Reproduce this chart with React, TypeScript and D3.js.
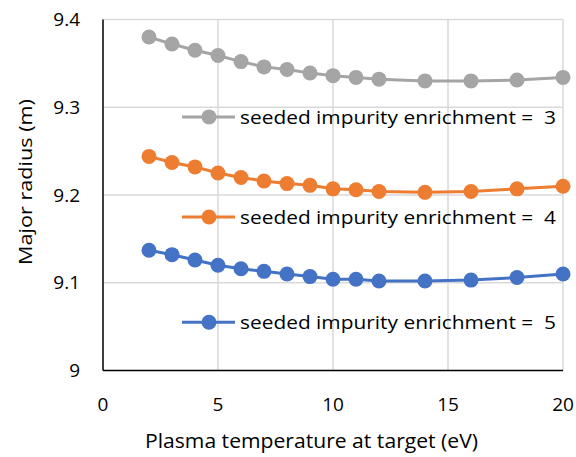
import React from "react";
import * as d3 from "d3";

const temps = [2, 3, 4, 5, 6, 7, 8, 9, 10, 11, 12, 14, 16, 18, 20];
const enrich3 = [9.380, 9.372, 9.365, 9.359, 9.352, 9.346, 9.343, 9.339, 9.336, 9.334, 9.332, 9.330, 9.330, 9.331, 9.334];
const enrich4 = [9.244, 9.237, 9.232, 9.225, 9.220, 9.216, 9.213, 9.211, 9.207, 9.206, 9.204, 9.203, 9.204, 9.207, 9.210];
const enrich5 = [9.137, 9.132, 9.126, 9.120, 9.116, 9.113, 9.110, 9.107, 9.104, 9.104, 9.102, 9.102, 9.103, 9.106, 9.110];
const seriesNames = ["seeded impurity enrichment =  3", "seeded impurity enrichment =  4", "seeded impurity enrichment =  5"];
const seriesColors = ["#A5A5A5", "#ED7D31", "#4472C4"];
const legendValues = [9.289, 9.175, 9.055];
const xTicks = [0, 5, 10, 15, 20];
const yTicks = [9, 9.1, 9.2, 9.3, 9.4];

export default function App() {
  const W = 576, H = 457;
  const x = d3.scaleLinear().domain([0, 20]).range([103, 563]);
  const y = d3.scaleLinear().domain([9, 9.4]).range([370.5, 19.5]);
  const series = [enrich3, enrich4, enrich5];
  const line = d3.line<number>().x((_, i) => x(temps[i])).y((d) => y(d));
  const font = "'Open Sans', sans-serif";
  return (
    <svg width={W} height={H} style={{ position: "absolute", left: 0, top: 0, background: "#fff" }}>
      <rect width={W} height={H} fill="#fff" />
      {yTicks.filter((t) => t > 9).map((t) => (
        <line key={"gy" + t} x1={x(0)} x2={x(20)} y1={y(t)} y2={y(t)} stroke="#d9d9d9" strokeWidth={1.5} />
      ))}
      {xTicks.filter((t) => t > 0).map((t) => (
        <line key={"gx" + t} x1={x(t)} x2={x(t)} y1={y(9)} y2={y(9.4)} stroke="#d9d9d9" strokeWidth={1.5} />
      ))}
      <line x1={x(0)} x2={x(0)} y1={y(9)} y2={y(9.4)} stroke="#000" strokeWidth={1.5} />
      <line x1={x(0)} x2={x(20)} y1={y(9)} y2={y(9)} stroke="#000" strokeWidth={1.5} />
      {yTicks.map((t) => (
        <text key={"ty" + t} x={80} y={y(t)} dy="0.35em" textAnchor="end" fontFamily={font} fontSize={19} fill="#000">
          {d3.format("")(+t.toFixed(1))}
        </text>
      ))}
      {xTicks.map((t) => (
        <text key={"tx" + t} x={x(t)} y={404} dy="0.35em" textAnchor="middle" fontFamily={font} fontSize={19} fill="#000">
          {t}
        </text>
      ))}
      <text x={311.5} y={441} dy="0.35em" textAnchor="middle" fontFamily={font} fontSize={20} fill="#000" textLength={333} lengthAdjust="spacingAndGlyphs">
        Plasma temperature at target (eV)
      </text>
      <text transform={`translate(25,${y(9.2) - 13}) rotate(-90)`} dy="0.35em" textAnchor="middle" fontFamily={font} fontSize={19} fill="#000" textLength={166} lengthAdjust="spacingAndGlyphs">
        Major radius (m)
      </text>
      {series.map((s, k) => (
        <g key={"s" + k}>
          <path d={line(s) || ""} fill="none" stroke={seriesColors[k]} strokeWidth={3} />
          {s.map((v, i) => (
            <circle key={i} cx={x(temps[i])} cy={y(v)} r={7.5} fill={seriesColors[k]} />
          ))}
        </g>
      ))}
      {series.map((_, k) => {
        const ly = y(legendValues[k]);
        return (
          <g key={"l" + k}>
            <line x1={182} x2={235} y1={ly} y2={ly} stroke={seriesColors[k]} strokeWidth={3} />
            <circle cx={209} cy={ly} r={7.5} fill={seriesColors[k]} />
            <text x={240} y={ly} dy="0.35em" fontFamily={font} fontSize={19} fill="#000" textLength={316} lengthAdjust="spacingAndGlyphs" style={{ whiteSpace: "pre" }}>
              {seriesNames[k]}
            </text>
          </g>
        );
      })}
    </svg>
  );
}
